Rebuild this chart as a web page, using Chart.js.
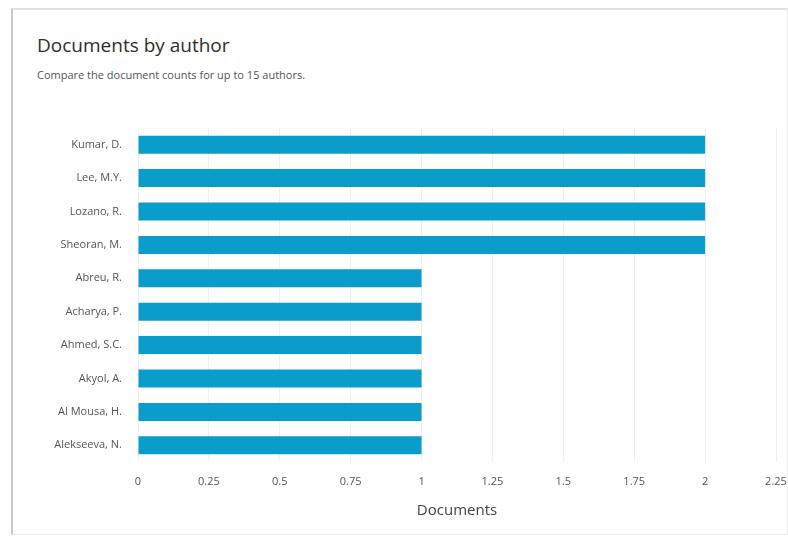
<!DOCTYPE html>
<html lang="en">
<head>
  <meta charset="UTF-8" />
  <title>Documents by author</title>
  <script src="https://cdn.jsdelivr.net/npm/chart.js"></script>
  <style>
    body { margin: 0; background: #fff; font-family: "Open Sans", sans-serif; }
    .card {
      position: absolute; left: 11px; top: 8px; width: 774px; height: 524px;
      border-left: 2px solid #c8c8c8; border-top: 2px solid #e2e2e2;
      border-right: 1px solid #ececec; border-bottom: 1px solid #ececec;
    }
    h1 { position: absolute; left: 37px; top: 32px; margin: 0; font-size: 19px; font-weight: 400; color: #2e2e2e; }
    p { position: absolute; left: 37px; top: 67px; margin: 0; font-size: 11px; color: #555; }
    .wrap { position: absolute; left: 0; top: 0; width: 788px; height: 538px; }
  </style>
</head>
<body>
  <div class="card"></div>
  <h1>Documents by author</h1>
  <p>Compare the document counts for up to 15 authors.</p>
  <div class="wrap"><canvas id="chart" width="788" height="538"></canvas></div>

  <script>
    const authors = ["Kumar, D.", "Lee, M.Y.", "Lozano, R.", "Sheoran, M.", "Abreu, R.",
                     "Acharya, P.", "Ahmed, S.C.", "Akyol, A.", "Al Mousa, H.", "Alekseeva, N."];
    const documents = [2, 2, 2, 2, 1, 1, 1, 1, 1, 1];
    const xMax = 2.25;

    new Chart(document.getElementById("chart"), {
      type: "bar",
      data: {
        labels: authors,
        datasets: [{
          label: "Documents",
          data: documents,
          backgroundColor: "#0a9dcc",
          categoryPercentage: 0.54,
          barPercentage: 1
        }]
      },
      options: {
        indexAxis: "y",
        responsive: false,
        animation: false,
        layout: { padding: { left: 0, top: 128, right: 12, bottom: 14 } },
        plugins: { legend: { display: false }, tooltip: { enabled: false } },
        scales: {
          x: {
            min: 0,
            max: xMax,
            ticks: {
              stepSize: 0.25,
              padding: 13,
              color: "#555",
              font: { family: "Open Sans", size: 11 },
              callback: v => String(Math.round(v * 100) / 100)
            },
            grid: { color: "#f0f0f0", drawTicks: false },
            border: { display: false },
            title: {
              display: true,
              text: "Documents",
              color: "#444",
              font: { family: "Open Sans", size: 15 },
              padding: { top: 8 }
            },
            afterFit: s => { s.height = 62; s.paddingLeft = 0; s.paddingRight = 0; }
          },
          y: {
            ticks: {
              padding: 8,
              color: "#555",
              font: { family: "Open Sans", size: 11 }
            },
            grid: { display: false },
            border: { display: false },
            afterFit: s => { s.width = 138; }
          }
        }
      }
    });
  </script>
</body>
</html>
